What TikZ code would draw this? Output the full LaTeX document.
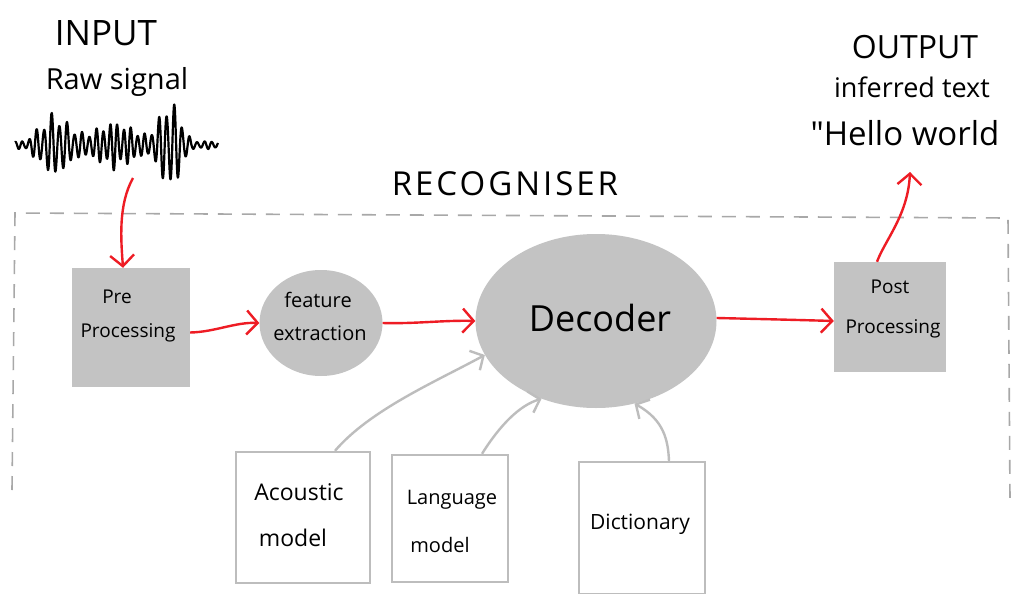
\documentclass[tikz,border=0pt]{standalone}
\usepackage{fontspec}
\setmainfont{Open Sans}
\newfontfamily\plainfont{Open Sans}
\newfontfamily\recfont[LetterSpace=9]{Open Sans}
\usetikzlibrary{arrows.meta,shapes.geometric}
\definecolor{penred}{HTML}{EE1C24}
\definecolor{blobgray}{HTML}{C3C3C3}
\definecolor{linegray}{HTML}{BDBDBD}
\definecolor{dashgray}{HTML}{A8A8A8}
\tikzset{
  redarrow/.style={draw=penred, line width=2.4pt, -{Straight Barb[length=11pt,width=24pt]}},
  grayarrow/.style={draw=linegray, line width=2.4pt, -{Straight Barb[length=10pt,width=22pt]}},
  graybox/.style={draw=none, fill=blobgray, minimum width=#1, inner sep=0pt},
  blob/.style={ellipse, fill=blobgray, inner sep=0pt},
  modelbox/.style={draw=linegray, line width=2.4pt, fill=white, inner sep=0pt},
  lbl/.style={inner sep=0pt, text=black},
}
\newcommand{\fs}[1]{\fontsize{#1}{#1}\selectfont}
\begin{document}
\begin{tikzpicture}[x=1pt,y=-1pt]
\useasboundingbox (0,0) rectangle (1015,594);
\fill[white] (0,0) rectangle (1015,594);

% recogniser frame
\draw[dashgray, line width=1.6pt, dash pattern=on 14pt off 10pt]
  (12,490) -- (15,213) -- (1008,218) -- (1010,500);
\node[lbl] (rec) at (505,184) {\recfont\fs{33}RECOGNISER};

% input
\node[lbl] (inp) at (106,33) {\fs{35}INPUT};
\node[lbl] (raw) at (117,82) {\fs{29}Raw signal};
\draw[black, line width=2.2pt, line join=round]
  plot[domain=15:218, samples=800]
  (\x, {145 - (4 + 32*max(0,1-abs(\x-55)/30) + 22*max(0,1-abs(\x-115)/45) + 48*max(0,1-abs(\x-170)/22))*(0.8+0.2*sin(\x*23))*sin(\x*50 + 60*sin(\x*3))});
\coordinate (sig) at (133,178);

% output
\node[lbl] (outp) at (915,47) {\fs{32}OUTPUT};
\node[lbl] (inf) at (912,87) {\fs{27}inferred text};
\node[lbl] (hello) at (905,133) {\plainfont\fs{33}"Hello world};
\coordinate (outarrow) at (910,172);

% main blocks
\node[graybox=118pt, minimum height=119pt] (pre) at (131,327.5) {};
\node[lbl] (pret) at (117,297) {\fs{19}Pre};
\node[lbl] (prot) at (128,333) {\fs{19}Processing};

\node[blob, minimum width=123pt, minimum height=106pt] (feat) at (321,323) {};
\node[lbl] (featt) at (318,300) {\fs{20}feature};
\node[lbl] (feate) at (320,333) {\fs{20}extraction};

\node[blob, minimum width=241pt, minimum height=174pt] (dec) at (596,321) {};
\node[lbl] (dect) at (600,318) {\fs{36}Decoder};

\node[graybox=112pt, minimum height=110pt] (post) at (890,317) {};
\node[lbl] (postt) at (890,287) {\fs{19}Post};
\node[lbl] (postp) at (893,329) {\fs{19}Processing};

% model boxes
\node[modelbox, minimum width=134pt, minimum height=131pt] (ac) at (303,517.5) {};
\node[lbl] (act) at (299,492) {\fs{23}Acoustic};
\node[lbl] (acm) at (293,538) {\fs{23}model};

\node[modelbox, minimum width=116pt, minimum height=127pt] (lm) at (450,518.5) {};
\node[lbl] (lmt) at (452,500) {\fs{20}Language};
\node[lbl] (lmm) at (440,545) {\fs{20}model};

\node[modelbox, minimum width=126pt, minimum height=132pt] (dict) at (642,528) {};
\node[lbl] (dictt) at (640,524) {\fs{21}Dictionary};

% red flow arrows
\draw[redarrow] (sig) .. controls (118,205) and (121,240) .. ([xshift=-8pt]pre.north);
\draw[redarrow] ([yshift=-5pt]pre.east) .. controls (215,332) and (235,322) .. (feat.west);
\draw[redarrow] (feat.east) .. controls (415,324) and (445,320) .. (dec.west);
\draw[redarrow] ([yshift=3pt]dec.east) .. controls (760,319) and (800,320) .. ([yshift=-4pt]post.west);
\draw[redarrow] ([xshift=-13pt]post.north) .. controls (885,240) and (908,215) .. (outarrow);

% gray model arrows
\draw[grayarrow] ([xshift=32pt]ac.north) .. controls (370,410) and (435,382) .. (dec.197);
\draw[grayarrow] ([xshift=32pt]lm.north) .. controls (500,425) and (520,405) .. (dec.235);
\draw[grayarrow] ([xshift=27pt]dict.north) .. controls (668,440) and (664,420) .. (dec.295);
\end{tikzpicture}
\end{document}
